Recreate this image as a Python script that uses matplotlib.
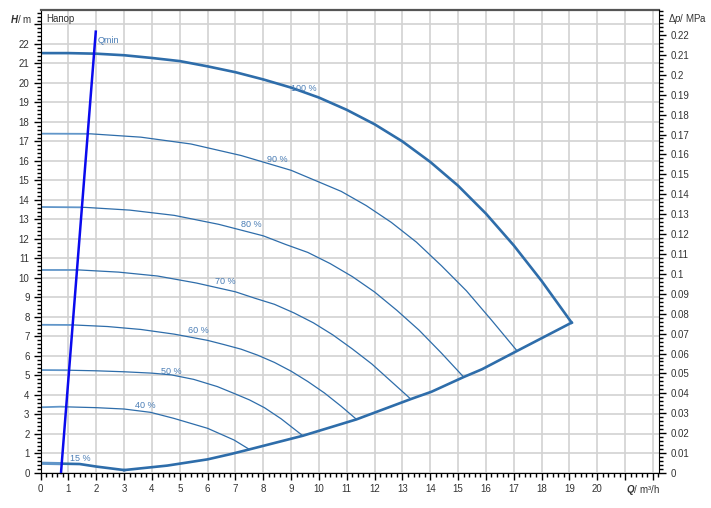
import numpy as np
import matplotlib.pyplot as plt
from matplotlib.patches import Polygon

plt.rcParams['font.family'] = ['Liberation Sans', 'DejaVu Sans']
plt.rcParams['mathtext.fontset'] = 'custom'
plt.rcParams['mathtext.rm'] = 'Liberation Sans'
plt.rcParams['mathtext.it'] = 'Liberation Sans:italic'
plt.rcParams['mathtext.bf'] = 'Liberation Sans:italic:bold'

# pump curves, Q in m3/h, H in m
q_100 = [0, 1, 2, 3, 4, 5, 6, 7, 8, 9, 10, 11, 12, 13, 14, 15, 16, 17, 18, 19.08]
h_100 = [21.53, 21.53, 21.50, 21.42, 21.28, 21.12, 20.85, 20.55, 20.18, 19.76, 19.25,
         18.62, 17.88, 17.0, 15.95, 14.73, 13.3, 11.67, 9.85, 7.71]
q_90 = [0, 1.8, 3.6, 5.4, 7.2, 9.0, 10.8, 11.7, 12.6, 13.5, 14.4, 15.3, 16.2, 17.12]
h_90 = [17.40, 17.39, 17.22, 16.87, 16.28, 15.52, 14.44, 13.71, 12.85, 11.84, 10.63, 9.34, 7.84, 6.26]
q_80 = [0, 1.6, 3.2, 4.8, 6.4, 8.0, 8.8, 9.6, 10.4, 11.2, 12.0, 12.8, 13.6, 14.4, 15.2]
h_80 = [13.64, 13.62, 13.48, 13.21, 12.75, 12.16, 11.72, 11.31, 10.74, 10.07, 9.28, 8.34, 7.32, 6.15, 4.92]
q_70 = [0, 1.4, 2.8, 4.2, 5.6, 7.0, 7.7, 8.4, 9.1, 9.8, 10.5, 11.2, 11.9, 12.6, 13.3]
h_70 = [10.41, 10.41, 10.30, 10.10, 9.74, 9.29, 8.96, 8.65, 8.21, 7.70, 7.08, 6.36, 5.59, 4.69, 3.79]
q_60 = [0, 1.2, 2.4, 3.6, 4.8, 6.0, 6.6, 7.2, 7.8, 8.4, 9.0, 9.6, 10.2, 10.8, 11.35]
h_60 = [7.60, 7.59, 7.51, 7.36, 7.12, 6.80, 6.58, 6.35, 6.04, 5.67, 5.22, 4.69, 4.10, 3.42, 2.75]
q_50 = [0, 1.0, 2.0, 3.0, 4.0, 4.7, 5.5, 6.35, 7.0, 7.5, 8.04, 8.64, 9.42]
h_50 = [5.28, 5.27, 5.24, 5.19, 5.12, 5.03, 4.80, 4.43, 4.05, 3.75, 3.35, 2.78, 1.91]
q_40 = [0, 0.7, 2.0, 3.0, 3.95, 4.79, 6.0, 6.95, 7.5]
h_40 = [3.37, 3.40, 3.35, 3.28, 3.11, 2.80, 2.29, 1.69, 1.21]
q_15 = [0, 1.4, 2.0, 3.0]
h_15 = [0.50, 0.46, 0.33, 0.15]

# system curve through the end points
q_sys = [3.0, 4.55, 6.0, 6.83, 7.5, 9.42, 11.35, 13.3, 14.05, 15.2, 15.86, 17.12, 19.08]
h_sys = [0.15, 0.38, 0.70, 0.97, 1.21, 1.91, 2.75, 3.79, 4.17, 4.92, 5.32, 6.26, 7.71]

# Qmin line
q_min = [0.73, 1.98]
h_min = [0.0, 22.63]

labels = ["100 %", "90 %", "80 %", "70 %", "60 %", "50 %", "40 %", "15 %"]
label_q = [9.47, 8.5, 7.56, 6.62, 5.68, 4.71, 3.77, 1.42]
label_h = [19.72, 16.05, 12.72, 9.8, 7.33, 5.18, 3.44, 0.72]

x_ticks = list(range(0, 21))
y_ticks = list(range(0, 23))
p_ticks = [round(0.01 * i, 2) for i in range(0, 23)]

dark = '#2e6daa'
light = '#6196c9'
txt = '#4a7db5'

fig = plt.figure(figsize=(7.11, 5.08), dpi=100)
ax = fig.add_axes([0.0572, 0.0689, 0.8697, 0.9114])
xmax, ymax = 22.22, 23.74
ax.set_xlim(0, xmax)
ax.set_ylim(0, ymax)

ax.set_xticks(range(0, 23), minor=False)
ax.set_xticklabels([str(v) if v in x_ticks else '' for v in range(0, 23)])
ax.set_xticks(np.arange(0, 22.3, 0.2), minor=True)
ax.set_yticks(range(0, 24))
ax.set_yticklabels([str(v) if v in y_ticks else '' for v in range(0, 24)])
ax.set_yticks(np.arange(0, 23.8, 0.2), minor=True)
ax.grid(True, which='major', color='#d2d2d2', lw=1.2)
ax.set_axisbelow(True)
ax.tick_params(which='major', direction='out', length=5, width=1, labelsize=7,
               labelcolor='#333333', pad=3)
ax.tick_params(which='minor', direction='out', length=3, width=1)
ax.spines['top'].set_color('#555555')
ax.spines['top'].set_linewidth(1.6)
ax.spines['right'].set_visible(False)

# clip regions left and right of the Qmin line
def qx(h):
    return q_min[0] + (q_min[1] - q_min[0]) / (h_min[1] - h_min[0]) * h

left_clip = Polygon([(-5, -5), (qx(-5), -5), (qx(40), 40), (-5, 40)], transform=ax.transData)
right_clip = Polygon([(qx(-5), -5), (50, -5), (50, 40), (qx(40), 40)], transform=ax.transData)

ax.plot(q_100, h_100, color=dark, lw=1.9, solid_joinstyle='round')
curves = [(q_90, h_90, 0.9), (q_80, h_80, 0.9), (q_70, h_70, 0.9), (q_60, h_60, 0.9),
          (q_50, h_50, 0.9), (q_40, h_40, 0.9), (q_15, h_15, 1.9)]
for q, h, lw in curves:
    l1, = ax.plot(q, h, color=light, lw=lw + 0.4, solid_joinstyle='round')
    l1.set_clip_path(left_clip)
    l2, = ax.plot(q, h, color=dark, lw=lw, solid_joinstyle='round')
    l2.set_clip_path(right_clip)

ax.plot(q_sys, h_sys, color=dark, lw=1.9, solid_joinstyle='round')
ax.plot(q_min, h_min, color='#0a0aee', lw=1.8, clip_on=False)
ax.text(2.05, 22.2, 'Qmin', fontsize=6.5, color=txt, va='center', ha='left')

for s, q, h in zip(labels, label_q, label_h):
    ax.text(q, h, s, fontsize=6.5, color=txt, ha='center', va='center')

ax.text(0.2, 23.3, 'Напор', fontsize=7, color='#333333', va='center', ha='left')
ax.annotate(r'$\mathbf{H}$/ m', xy=(0, 23.3), xycoords=('axes fraction', 'data'),
            xytext=(-9, 0), textcoords='offset pixels', fontsize=7, color='#333333',
            ha='right', va='center')
ax.annotate(r'$\mathbf{Q}$/ m³/h', xy=(21.63, 0), xycoords=('data', 'axes fraction'),
            xytext=(0, -10), textcoords='offset pixels', fontsize=7, color='#333333',
            ha='center', va='top')

ax2 = ax.twinx()
ax2.set_ylim(0, ymax * 0.009795)
ax2.set_yticks(p_ticks)
ax2.set_yticklabels([f'{v:g}' for v in p_ticks])
ax2.set_yticks(np.arange(0, 0.2326, 0.002), minor=True)
ax2.tick_params(which='major', direction='out', length=5, width=1, labelsize=7,
                labelcolor='#333333', pad=3)
ax2.tick_params(which='minor', direction='out', length=3, width=1)
for side in ['top', 'left', 'bottom']:
    ax2.spines[side].set_visible(False)
ax2.annotate('Δ$\\mathit{p}$/ MPa', xy=(1, 23.3 * 0.009795), xycoords=('axes fraction', 'data'),
             xytext=(9, 0), textcoords='offset pixels', fontsize=7, color='#333333',
             ha='left', va='center')

fig.savefig('out.png', dpi=100)
